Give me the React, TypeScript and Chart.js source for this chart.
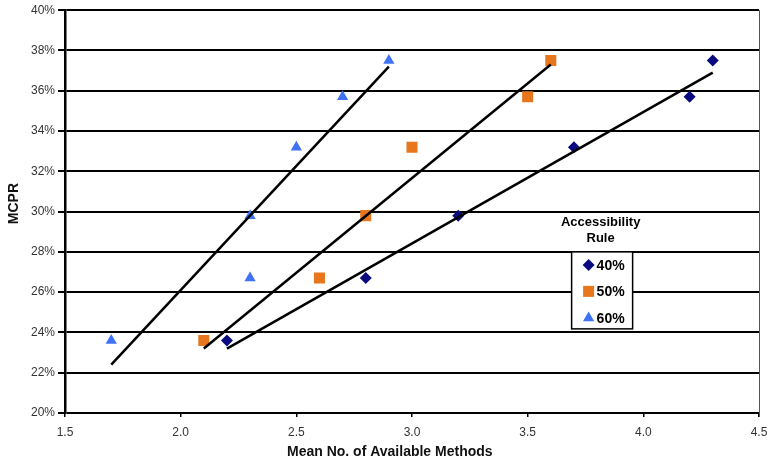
import React, { useEffect, useRef } from "react";
import { Chart, registerables } from "chart.js";

Chart.register(...registerables);

const seriesLabels = ["40%", "50%", "60%"];
const seriesColors = ["#0A0A80", "#E8761C", "#3F72F5"];
const seriesStyles = ["rectRot", "rect", "triangle"];

const yValues = [23.6, 26.7, 29.8, 33.2, 35.7, 37.5];
const x40 = [2.2, 2.8, 3.2, 3.7, 4.2, 4.3];
const x50 = [2.1, 2.6, 2.8, 3.0, 3.5, 3.6];
const x60 = [1.7, 2.3, 2.3, 2.5, 2.7, 2.9];

const trend40X = [2.2, 4.3];
const trend40Y = [23.2, 36.9];
const trend50X = [2.1, 3.6];
const trend50Y = [23.2, 37.3];
const trend60X = [1.7, 2.9];
const trend60Y = [22.4, 37.2];

const legendTitle = ["Accessibility", "Rule"];
const xTitle = "Mean No. of Available Methods";
const yTitle = "MCPR";

const FONT = "'Liberation Sans', Arial, Helvetica, sans-serif";

function pts(xs: number[], ys: number[]) {
  return xs.map((x, i) => ({ x, y: ys[i] }));
}

function drawMarker(ctx: CanvasRenderingContext2D, style: string, x: number, y: number, color: string) {
  ctx.save();
  ctx.fillStyle = color;
  ctx.beginPath();
  if (style === "rectRot") {
    const r = 6;
    ctx.moveTo(x, y - r);
    ctx.lineTo(x + r, y);
    ctx.lineTo(x, y + r);
    ctx.lineTo(x - r, y);
  } else if (style === "rect") {
    const s = 5.5;
    ctx.rect(x - s, y - s, 2 * s, 2 * s);
  } else {
    const r = 6.5;
    ctx.moveTo(x, y - r);
    ctx.lineTo(x + r * 0.866, y + r * 0.5);
    ctx.lineTo(x - r * 0.866, y + r * 0.5);
  }
  ctx.closePath();
  ctx.fill();
  ctx.restore();
}

const legendPlugin = {
  id: "customLegend",
  afterDraw(chart: any) {
    const ctx: CanvasRenderingContext2D = chart.ctx;
    const area = chart.chartArea;
    const bx = area.left + (area.right - area.left) * 0.73;
    const by = area.top + (area.bottom - area.top) * 0.6;
    const bw = 61;
    const bh = 77;
    ctx.save();
    ctx.font = `bold 13px ${FONT}`;
    ctx.fillStyle = "#000";
    ctx.textAlign = "center";
    ctx.textBaseline = "middle";
    ctx.fillText(legendTitle[0], bx + 29, by - 29);
    ctx.fillText(legendTitle[1], bx + 29, by - 13);
    ctx.fillStyle = "#fff";
    ctx.fillRect(bx, by, bw, bh);
    ctx.strokeStyle = "#000";
    ctx.lineWidth = 1.5;
    ctx.strokeRect(bx, by, bw, bh);
    ctx.textAlign = "left";
    ctx.font = `bold 14px ${FONT}`;
    for (let i = 0; i < seriesLabels.length; i++) {
      const cy = by + 13 + i * 26.5;
      drawMarker(ctx, seriesStyles[i], bx + 17, cy, seriesColors[i]);
      ctx.fillStyle = "#000";
      ctx.fillText(seriesLabels[i], bx + 25, cy + 1);
    }
    ctx.restore();
  },
};

const axisTitlesPlugin = {
  id: "axisTitles",
  afterDraw(chart: any) {
    const ctx: CanvasRenderingContext2D = chart.ctx;
    const a = chart.chartArea;
    ctx.save();
    ctx.fillStyle = "#111";
    ctx.font = `bold 14px ${FONT}`;
    ctx.textAlign = "center";
    ctx.textBaseline = "middle";
    ctx.fillText(xTitle, a.left + (a.right - a.left) * 0.468, a.bottom + 39);
    ctx.translate(a.left - 51, a.top + (a.bottom - a.top) * 0.48);
    ctx.rotate(-Math.PI / 2);
    ctx.fillText(yTitle, 0, 0);
    ctx.restore();
  },
};

const rightBorderPlugin = {
  id: "rightBorder",
  afterDraw(chart: any) {
    const ctx: CanvasRenderingContext2D = chart.ctx;
    const a = chart.chartArea;
    ctx.save();
    ctx.strokeStyle = "#555";
    ctx.lineWidth = 1;
    ctx.beginPath();
    ctx.moveTo(a.right + 0.5, a.top);
    ctx.lineTo(a.right + 0.5, a.bottom + 4);
    ctx.stroke();
    ctx.restore();
  },
};

export default function App() {
  const ref = useRef<HTMLCanvasElement | null>(null);
  useEffect(() => {
    if (!ref.current) return;
    const pointData = [x40, x50, x60].map((xs) => pts(xs, yValues));
    const trends = [
      pts(trend40X, trend40Y),
      pts(trend50X, trend50Y),
      pts(trend60X, trend60Y),
    ];
    const datasets: any[] = [];
    trends.forEach((t, i) => {
      datasets.push({
        type: "line",
        label: "trend " + seriesLabels[i],
        data: t,
        borderColor: "#000",
        borderWidth: 2.5,
        pointRadius: 0,
        fill: false,
        order: 0,
      });
    });
    pointData.forEach((d, i) => {
      datasets.push({
        type: "scatter",
        label: seriesLabels[i],
        data: d,
        backgroundColor: seriesColors[i],
        borderColor: seriesColors[i],
        borderWidth: 0,
        pointStyle: seriesStyles[i],
        pointRadius: seriesStyles[i] === "rect" ? 7.8 : seriesStyles[i] === "rectRot" ? 6 : 6.5,
        order: 1,
      });
    });
    const chart = new Chart(ref.current, {
      type: "scatter",
      data: { datasets },
      options: {
        animation: false,
        responsive: false,
        maintainAspectRatio: false,
        layout: { padding: { top: 9, right: 12, left: 0, bottom: 0 } },
        plugins: {
          legend: { display: false },
          tooltip: { enabled: false },
        },
        scales: {
          x: {
            type: "linear",
            min: 1.5,
            max: 4.5,
            ticks: {
              stepSize: 0.5,
              callback: (v: any) => Number(v).toFixed(1),
              color: "#333",
              font: { family: FONT, size: 12 },
              padding: 8,
            },
            grid: {
              display: true,
              drawOnChartArea: false,
              drawTicks: true,
              tickLength: 4,
              color: "#000",
              lineWidth: 1.5,
            },
            border: { display: false },
            title: { display: false },
            afterFit: (s: any) => {
              s.height = 53;
              s.paddingLeft = 0;
              s.paddingRight = 0;
            },
          },
          y: {
            type: "linear",
            min: 20,
            max: 40,
            ticks: {
              stepSize: 2,
              callback: (v: any) => `${v}%`,
              color: "#333",
              font: { family: FONT, size: 12 },
              padding: 3,
            },
            grid: {
              color: "#000",
              lineWidth: 2,
              tickLength: 7,
            },
            border: { display: true, color: "#000", width: 2.5 },
            title: { display: false },
            afterFit: (s: any) => {
              s.width = 65;
            },
          },
        },
      } as any,
      plugins: [legendPlugin, axisTitlesPlugin, rightBorderPlugin],
    });
    return () => chart.destroy();
  }, []);
  return (
    <div style={{ position: "absolute", left: 0, top: 0, width: 771, height: 466, background: "#fff" }}>
      <canvas ref={ref} width={771} height={466} style={{ width: 771, height: 466 }} />
    </div>
  );
}
